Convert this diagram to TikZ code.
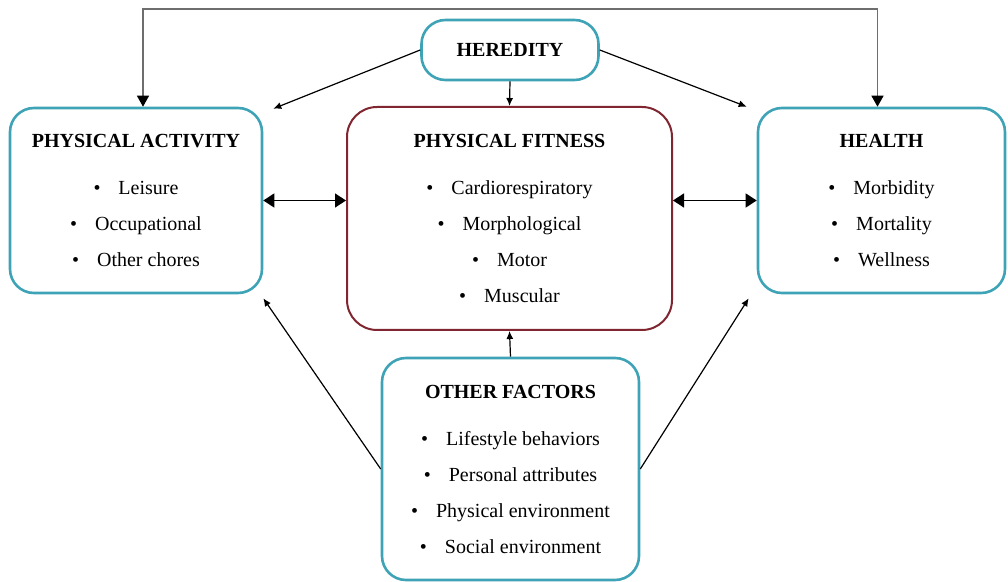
\documentclass[tikz,border=0pt]{standalone}
\usepackage{fontspec}
\setmainfont{Liberation Serif}
\usepackage{xcolor}
\usetikzlibrary{arrows.meta,calc}
\definecolor{tealc}{RGB}{62,163,182}
\definecolor{maroonc}{RGB}{128,38,48}
\definecolor{linegrey}{RGB}{110,110,110}
\newcommand{\itm}[1]{\textbullet\hspace{9pt}#1}

\begin{document}
\begin{tikzpicture}[
    x=0.5pt, y=-0.5pt,
    box/.style={draw=tealc, line width=1.3pt, rounded corners=12pt, align=center,
        inner sep=0pt, font=\fontsize{10}{18}\selectfont},
    fitbox/.style={box, draw=maroonc, line width=1pt, rounded corners=15pt},
    link/.style={-{Latex[length=4pt,width=3.5pt]}, line width=0.6pt},
    both/.style={{Triangle[length=5.5pt,width=7pt]}-{Triangle[length=5.5pt,width=7pt]}, line width=0.7pt},
    toplink/.style={{Triangle[length=5.5pt,width=6pt,black]}-{Triangle[length=5.5pt,width=6pt,black]}, line width=0.7pt, draw=linegrey}
]
\useasboundingbox (0,0) rectangle (1008,582);

\node[box, minimum width=88.5pt, minimum height=30pt] (her) at (510,50) {\textbf{HEREDITY}};
\node[box, minimum width=126pt, minimum height=92.5pt] (pa) at (136,200.5)
    {\textbf{PHYSICAL ACTIVITY}\\[5.5pt] \itm{Leisure}\\ \itm{Occupational}\\ \itm{Other chores}};
\node[fitbox, minimum width=162.5pt, minimum height=111.5pt] (pf) at (509.5,218.5)
    {\textbf{PHYSICAL FITNESS}\\[5.5pt] \itm{Cardiorespiratory}\\ \itm{Morphological}\\ \itm{Motor}\\ \itm{Muscular}};
\node[box, minimum width=123.5pt, minimum height=92.5pt] (hl) at (881.5,200.5)
    {\textbf{HEALTH}\\[5.5pt] \itm{Morbidity}\\ \itm{Mortality}\\ \itm{Wellness}};
\node[box, minimum width=128.5pt, minimum height=111pt] (of) at (510.5,469)
    {\textbf{OTHER FACTORS}\\[5.5pt] \itm{Lifestyle behaviors}\\ \itm{Personal attributes}\\ \itm{Physical environment}\\ \itm{Social environment}};

% heredity
\coordinate (top) at (510,9);
\draw[toplink] ([xshift=3.5pt]pa.north) |- (top) -| ([xshift=-2pt]hl.north);
\draw[link] (her.west) -- ([xshift=5pt,yshift=-1pt]pa.north east);
\draw[link] (her.east) -- ([xshift=-5pt]hl.north west);
\draw[link] (her.south) -- (pf.north);

% fitness in the middle
\draw[both] (pa.east) -- (pa.east -| pf.west);
\draw[both] (hl.west -| pf.east) -- (hl.west);

% other factors
\draw[link] (of.north) -- (pf.south);
\draw[link] (of.west) -- ([yshift=-2pt]pa.south east);
\draw[link] (of.east) -- ([xshift=-4pt,yshift=-2pt]hl.south west);
\end{tikzpicture}
\end{document}
